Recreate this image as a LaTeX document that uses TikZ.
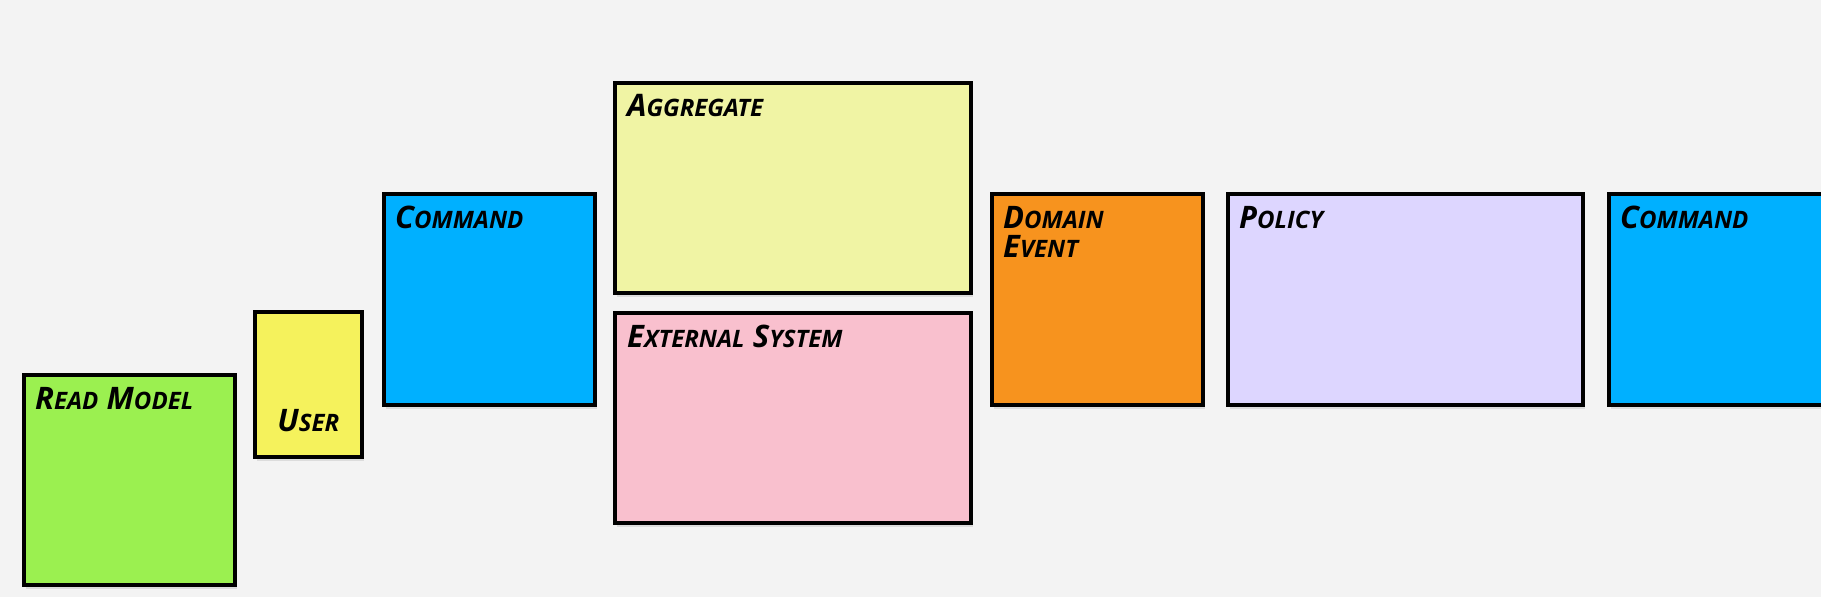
\documentclass[tikz,border=0pt]{standalone}
\usepackage{fontspec}
\setmainfont{Open Sans}
\usetikzlibrary{shadows}
\definecolor{bg}{HTML}{F3F3F3}
\definecolor{cgreen}{HTML}{9BF050}
\definecolor{cyellow}{HTML}{F5F25C}
\definecolor{cblue}{HTML}{00B0FF}
\definecolor{cagg}{HTML}{F0F4A4}
\definecolor{cpink}{HTML}{F9C0CE}
\definecolor{corange}{HTML}{F7931E}
\definecolor{clav}{HTML}{DDD6FF}
\newcommand\Cp[1]{{\fontsize{31}{34}\selectfont #1}}
\newcommand\Lw[1]{{\fontsize{24}{26}\selectfont #1}}
\begin{document}
\begin{tikzpicture}[x=1pt,y=-1pt,
  sticky/.style={draw=black, line width=3.5pt, anchor=north west, inner sep=0pt,
    drop shadow={opacity=0.2, shadow xshift=2pt, shadow yshift=-4pt}},
  lbl/.style={anchor=base west, inner sep=0pt, font=\fontsize{32}{34}\selectfont\bfseries\itshape}]
\fill[bg] (0,0) rectangle (1821,597);
\useasboundingbox (0,0) rectangle (1821,597);
% boxes
\node[sticky, fill=cgreen, minimum width=211pt, minimum height=210pt] (rm) at (22,373) {};
\node[sticky, fill=cyellow, minimum width=107pt, minimum height=145pt] (user) at (253,310) {};
\node[sticky, fill=cblue, minimum width=211pt, minimum height=211pt] (cmd) at (382,192) {};
\node[sticky, fill=cagg, minimum width=356pt, minimum height=210pt] (agg) at (613,81) {};
\node[sticky, fill=cpink, minimum width=356pt, minimum height=210pt] (ext) at (613,311) {};
\node[sticky, fill=corange, minimum width=211pt, minimum height=211pt] (dev) at (990,192) {};
\node[sticky, fill=clav, minimum width=355pt, minimum height=211pt] (pol) at (1226,192) {};
\node[sticky, fill=cblue, minimum width=240pt, minimum height=211pt] (cmdb) at (1607,192) {};
% labels
\node[lbl] (trm) at ([xshift=13pt,yshift=-36pt]rm.north west) {\Cp{R}\Lw{EAD} \Cp{M}\Lw{ODEL}};
\node[lbl, anchor=base] (tuser) at ([yshift=27pt]user.south) {\Cp{U}\Lw{SER}};
\node[lbl] (tcmd) at ([xshift=13pt,yshift=-36pt]cmd.north west) {\Cp{C}\Lw{OMMAND}};
\node[lbl] (tagg) at ([xshift=14pt,yshift=-35pt]agg.north west) {\Cp{A}\Lw{GGREGATE}};
\node[lbl] (text) at ([xshift=14pt,yshift=-36pt]ext.north west) {\Cp{E}\Lw{XTERNAL} \Cp{S}\Lw{YSTEM}};
\node[lbl] (tdev) at ([xshift=13pt,yshift=-36pt]dev.north west) {\Cp{D}\Lw{OMAIN}};
\node[lbl] (tdev2) at ([xshift=13pt,yshift=-65pt]dev.north west) {\Cp{E}\Lw{VENT}};
\node[lbl] (tpol) at ([xshift=13pt,yshift=-36pt]pol.north west) {\Cp{P}\Lw{OLICY}};
\node[lbl] (tcmdb) at ([xshift=13pt,yshift=-36pt]cmdb.north west) {\Cp{C}\Lw{OMMAND}};
\end{tikzpicture}
\end{document}
